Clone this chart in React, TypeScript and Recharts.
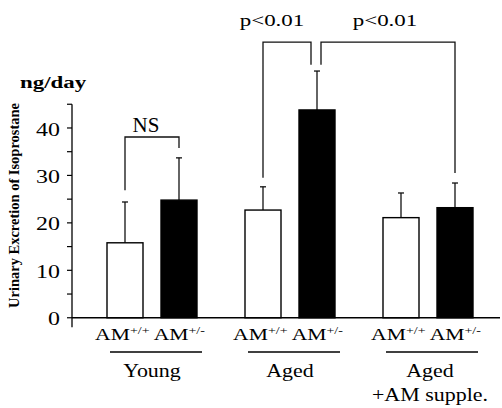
import React from 'react';
import { BarChart, Bar, XAxis, YAxis, ReferenceLine } from 'recharts';

const SERIF = '"Liberation Serif", "Times New Roman", serif';

// ---- data ----
const groups = ['Young', 'Aged', 'Aged +AM supple.'];
const groupLines = [['Young'], ['Aged'], ['Aged', '+AM supple.']];
const genotypeBase = 'AM';
const genotypeSup = ['+/+', '+/-'];
const wtMean = [15.8, 22.7, 21.1];
const wtSem = [8.6, 4.9, 5.2];
const hetMean = [24.8, 43.8, 23.2];
const hetSem = [8.9, 8.2, 5.2];
const yTicks = [0, 5, 10, 15, 20, 25, 30, 35, 40, 45];
const yLabelTicks = [0, 10, 20, 30, 40];
const yUnit = 'ng/day';
const yTitle = 'Urinary Excretion of Isoprostane';

// significance brackets (bar = series key + group index, heights in data units)
const bracketLabel = ['NS', 'p<0.01', 'p<0.01'];
const bracketFromSeries = ['wt', 'wt', 'het'];
const bracketFromGroup = [0, 1, 1];
const bracketToSeries = ['het', 'het', 'het'];
const bracketToGroup = [0, 1, 2];
const bracketFromBase = [26.9, 29.5, 53.3];
const bracketToBase = [35.8, 53.3, 30.5];
const bracketTop = [38.1, 58.1, 58.1];

const data = groups.map((g, i) => ({
  group: g,
  wt: wtMean[i],
  wtSem: wtSem[i],
  het: hetMean[i],
  hetSem: hetSem[i],
}));

// ---- style ----
const bracketFromDx = [0, 0, 4];
const bracketToDx = [0, -6, 0];
const bracketLabelDx = [-6, -15, -3];
const bracketLabelDy = [-5, -16, -16];
const bracketLabelSize = [20, 17, 17];
const bracketLabelSx = [1.05, 1.35, 1.35];

const SText = ({ x, y, sx = 1, size = 18, weight = 'normal', anchor = 'middle', dy = 0, children }: any) => (
  <g transform={`translate(${x},${y}) scale(${sx},1)`}>
    <text x={0} y={0} dy={dy} textAnchor={anchor} fontFamily={SERIF} fontSize={size} fontWeight={weight} fill="#000">
      {children}
    </text>
  </g>
);

const REG: Record<string, { cx: number; y0: number; k: number }> = {};

const renderBrackets = () => {
  const out: any[] = [];
  bracketLabel.forEach((lab, i) => {
    const a = REG[`${bracketFromSeries[i]}-${bracketFromGroup[i]}`];
    const b = REG[`${bracketToSeries[i]}-${bracketToGroup[i]}`];
    if (!a || !b) return;
    const yv = (v: number) => a.y0 - v * a.k;
    const x1 = a.cx + bracketFromDx[i];
    const x2 = b.cx + bracketToDx[i];
    const yt = yv(bracketTop[i]);
    out.push(
      <g key={i}>
        <polyline
          points={`${x1},${yv(bracketFromBase[i])} ${x1},${yt} ${x2},${yt} ${x2},${yv(bracketToBase[i])}`}
          fill="none"
          stroke="#111"
          strokeWidth={1.3}
        />
        <SText x={(x1 + x2) / 2 + bracketLabelDx[i]} y={yt + bracketLabelDy[i]} size={bracketLabelSize[i]} sx={bracketLabelSx[i]}>
          {lab}
        </SText>
      </g>
    );
  });
  return out;
};

const makeShape = (key: string, fill: string) => (props: any) => {
  const { x, y, width, height, payload } = props;
  const idx = props.index ?? groups.indexOf(payload.group);
  const v = payload[key];
  const sem = payload[key + 'Sem'];
  const k = height / v;
  const y0 = y + height;
  const cx = x + width / 2;
  REG[`${key}-${idx}`] = { cx, y0, k };
  const yTop = y0 - (v + sem) * k;
  const last = key === 'het' && idx === groups.length - 1;
  return (
    <g>
      <line x1={cx} x2={cx} y1={y} y2={yTop} stroke="#111" strokeWidth={1.3} />
      <line x1={cx - 3} x2={cx + 3} y1={yTop} y2={yTop} stroke="#111" strokeWidth={1.3} />
      <rect x={x} y={y} width={width} height={height} fill={fill} stroke="#000" strokeWidth={1.4} />
      {last ? renderBrackets() : null}
    </g>
  );
};

const YTick = (props: any) => {
  const { x, y, payload } = props;
  if (!yLabelTicks.includes(payload.value)) return <g />;
  return (
    <SText x={x} y={y} sx={1.26} size={19} anchor="end" dy="0.4em">
      {payload.value}
    </SText>
  );
};

const XTick = (props: any) => {
  const { x, payload } = props;
  const i = groups.indexOf(payload.value);
  const lines = groupLines[i] || [];
  const shift = i === 2 ? 2 : 0;
  return (
    <g>
      <g transform={`translate(${x - 2},340) scale(1.27,1)`}>
        <text x={0} y={0} textAnchor="middle" fontFamily={SERIF} fontSize={17} fill="#000">
          <tspan>{genotypeBase}</tspan>
          <tspan dy={-6} fontSize={11}>{genotypeSup[0]}</tspan>
          <tspan dy={6} fontSize={17}>{' ' + genotypeBase}</tspan>
          <tspan dy={-6} fontSize={11}>{genotypeSup[1]}</tspan>
        </text>
      </g>
      <line x1={x + 4 - 46} x2={x + 4 + 46} y1={352} y2={352} stroke="#000" strokeWidth={1.3} />
      {lines.map((t, j) => (
        <SText key={j} x={x + shift} y={377 + j * 24} sx={1.22} size={18}>
          {t}
        </SText>
      ))}
    </g>
  );
};

export default function App() {
  return (
    <div style={{ width: 502, height: 408, background: '#fff' }}>
      <style>{'body{margin:0;background:#fff}'}</style>
      <BarChart
        width={502}
        height={408}
        data={data}
        margin={{ top: 104.25, right: 2, bottom: 0, left: 0 }}
        barSize={36}
        barGap={18}
      >
        <XAxis
          dataKey="group"
          type="category"
          padding={{ left: 11, right: 3 }}
          axisLine={false}
          tickLine={false}
          interval={0}
          height={80.75}
          tick={XTick}
        />
        <YAxis
          type="number"
          domain={[-2, 45]}
          ticks={yTicks}
          width={72}
          tickSize={5}
          tickMargin={7}
          axisLine={{ stroke: '#000', strokeWidth: 1.3 }}
          tickLine={{ stroke: '#000', strokeWidth: 1.2 }}
          tick={YTick}
        />
        <ReferenceLine y={0} stroke="#000" strokeWidth={1.3} />
        <Bar dataKey="wt" isAnimationActive={false} shape={makeShape('wt', '#ffffff')} />
        <Bar dataKey="het" isAnimationActive={false} shape={makeShape('het', '#000000')} />
        <g>
          <SText x={20} y={88} sx={1.35} size={17} weight="bold" anchor="start">
            {yUnit}
          </SText>
          <text
            x={14}
            y={205.5}
            transform="rotate(-90, 14, 205.5)"
            textAnchor="middle"
            dominantBaseline="central"
            fontFamily={SERIF}
            fontSize={15}
            fontWeight="bold"
            textLength={205}
            lengthAdjust="spacingAndGlyphs"
            fill="#000"
          >
            {yTitle}
          </text>
        </g>
      </BarChart>
    </div>
  );
}
